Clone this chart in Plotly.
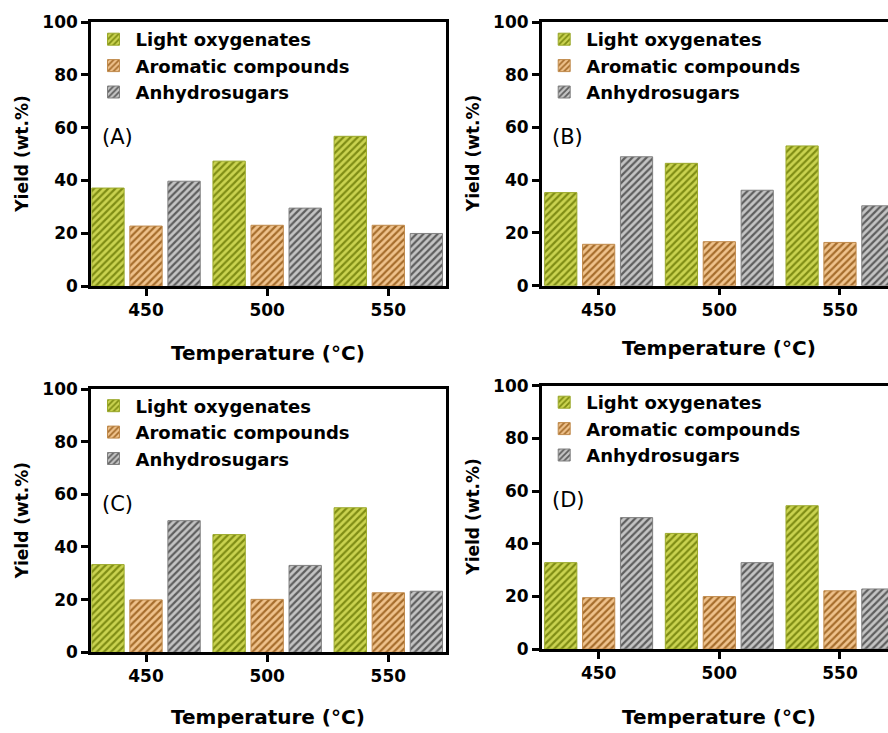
import plotly.graph_objects as go

temperatures = [450, 500, 550]
series_names = ["Light oxygenates", "Aromatic compounds", "Anhydrosugars"]
panel_labels = ["(A)", "(B)", "(C)", "(D)"]

# yields (wt.%) per panel, per series, per temperature
panel_a_light = [37.1, 47.3, 56.7]
panel_a_arom = [22.7, 23.0, 23.0]
panel_a_anhy = [39.7, 29.5, 19.9]

panel_b_light = [35.3, 46.4, 53.0]
panel_b_arom = [15.7, 16.7, 16.4]
panel_b_anhy = [48.9, 36.2, 30.3]

panel_c_light = [33.3, 44.7, 54.9]
panel_c_arom = [19.9, 20.1, 22.6]
panel_c_anhy = [50.0, 33.0, 23.2]

panel_d_light = [32.8, 43.9, 54.4]
panel_d_arom = [19.5, 19.9, 22.1]
panel_d_anhy = [49.9, 32.8, 22.8]

panels = [
    [panel_a_light, panel_a_arom, panel_a_anhy],
    [panel_b_light, panel_b_arom, panel_b_anhy],
    [panel_c_light, panel_c_arom, panel_c_anhy],
    [panel_d_light, panel_d_arom, panel_d_anhy],
]

W, H = 888, 733
bg_colors = ["#cad350", "#efc28c", "#c4c4c4"]
fg_colors = ["#7f8d14", "#a66d2c", "#5e5e5e"]
line_colors = ["#9aa82a", "#c08a4c", "#808080"]

# panel geometry in pixels: left, right, top, bottom
geo = [
    (91, 445.5, 22, 286),
    (541.7, 888, 22, 285.7),
    (91, 445.5, 389, 652.3),
    (541.7, 888, 385.7, 649),
]
xranges = [[427.3, 573.6], [426.4, 569.9], [427.3, 573.6], [426.4, 569.9]]
legend_tops = [21, 21, 387.5, 384]
title_y = [353, 348, 716.7, 716.7]
ytitle_x = [21.7, 473.3, 21.7, 473.3]

FONT = "DejaVu Sans"
fig = go.Figure()
for p in range(4):
    axn = "" if p == 0 else str(p + 1)
    leg = "legend" if p == 0 else f"legend{p + 1}"
    for s in range(3):
        fig.add_trace(go.Bar(
            x=temperatures, y=panels[p][s], name=series_names[s],
            xaxis="x" + axn, yaxis="y" + axn, legend=leg,
            marker=dict(
                color=bg_colors[s],
                line=dict(color=line_colors[s], width=1),
                pattern=dict(shape="/", bgcolor=bg_colors[s], fgcolor=fg_colors[s],
                             size=5, solidity=0.45, fillmode="replace"),
            ),
        ))

layout = dict(
    template="none",
    width=W, height=H, autosize=False,
    margin=dict(l=0, r=0, t=0, b=0, pad=0, autoexpand=False),
    paper_bgcolor="white", plot_bgcolor="white",
    barmode="group", bargap=0.058, bargroupgap=0.15,
    showlegend=True,
    annotations=[], shapes=[],
)
for p in range(4):
    l, r, t, b = geo[p]
    axn = "" if p == 0 else str(p + 1)
    right_clipped = p in (1, 3)
    layout["xaxis" + axn] = dict(
        domain=[l / W, r / W], range=xranges[p], anchor="y" + axn,
        tickvals=temperatures, ticks="outside", ticklen=7, tickwidth=2.5,
        tickcolor="black", showline=True, linecolor="black", linewidth=2.5,
        mirror=True, showgrid=False, zeroline=False, automargin=False,
        tickfont=dict(family=FONT, size=17, color="black", weight="bold"),
    )
    layout["yaxis" + axn] = dict(
        domain=[1 - b / H, 1 - t / H], range=[0, 100], anchor="x" + axn,
        dtick=20, ticks="outside", ticklen=7, tickwidth=2.5, tickcolor="black",
        showline=True, linecolor="black", linewidth=2.5, automargin=False,
        mirror=not right_clipped, showgrid=False, zeroline=False,
        tickfont=dict(family=FONT, size=17, color="black", weight="bold"),
    )
    leg = "legend" if p == 0 else f"legend{p + 1}"
    layout[leg] = dict(
        x=(l + 0.5) / W, y=1 - legend_tops[p] / H, xanchor="left", yanchor="top",
        bgcolor="rgba(0,0,0,0)", borderwidth=0,
        font=dict(family=FONT, size=18, color="black", weight="bold"),
        traceorder="normal", itemwidth=34,
    )
    layout["annotations"].append(dict(
        text=panel_labels[p], xref="x" + axn + " domain", yref="y" + axn,
        x=(8.5) / (r - l), y=56.5, xanchor="left", yanchor="middle", showarrow=False,
        font=dict(family=FONT, size=21, color="black"),
    ))
    layout["annotations"].append(dict(
        text="Temperature (°C)", xref="paper", yref="paper",
        x=((91 + 445.5) / 2 if p in (0, 2) else (541.7 + 541.7 + 354.5) / 2) / W,
        y=1 - title_y[p] / H, xanchor="center", yanchor="middle", showarrow=False,
        font=dict(family=FONT, size=20, color="black", weight="bold"),
    ))
    layout["annotations"].append(dict(
        text="Yield (wt.%)", xref="paper", yref="paper",
        x=ytitle_x[p] / W, y=1 - ((t + b) / 2) / H, textangle=-90,
        xanchor="center", yanchor="middle", showarrow=False,
        font=dict(family=FONT, size=17, color="black", weight="bold"),
    ))

fig.update_layout(**layout)
fig.write_html("out.html", config={"displayModeBar": False},
               post_script="document.body.style.margin='0px';")
